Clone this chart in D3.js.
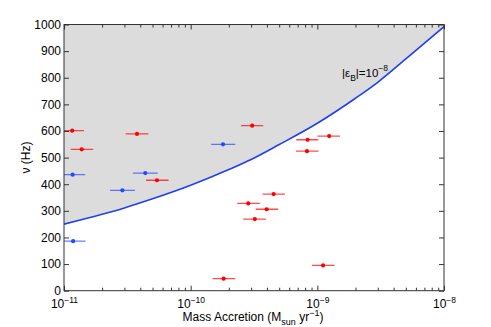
<!DOCTYPE html>
<html>
<head>
<meta charset="utf-8">
<script src="https://cdn.jsdelivr.net/npm/d3@7"></script>
<style>
body { margin: 0; background: #fff; }
svg { font-family: "Liberation Sans", Arial, Helvetica, sans-serif; }
</style>
</head>
<body>
<svg width="491" height="327"></svg>
<script>
// sources: accretion rate (Msun/yr) with range, spin frequency (Hz)
const mdot   = [1.16e-11, 3.77e-11, 1.38e-11, 1.17e-11, 4.38e-11, 5.42e-11, 2.89e-11, 1.18e-11, 3.06e-10, 1.80e-10, 1.24e-9, 8.38e-10, 8.28e-10, 4.52e-10, 2.85e-10, 3.98e-10, 3.21e-10, 1.82e-10, 1.11e-9];
const mdotLo = [0.97e-11, 3.07e-11, 1.13e-11, 0.97e-11, 3.50e-11, 4.44e-11, 2.31e-11, 0.97e-11, 2.50e-10, 1.45e-10, 1.00e-9, 6.82e-10, 6.78e-10, 3.70e-10, 2.33e-10, 3.26e-10, 2.60e-10, 1.49e-10, 9.06e-10];
const mdotHi = [1.44e-11, 4.63e-11, 1.70e-11, 1.47e-11, 5.49e-11, 6.70e-11, 3.63e-11, 1.48e-11, 3.74e-10, 2.25e-10, 1.51e-9, 1.02e-9, 1.02e-9, 5.55e-10, 3.52e-10, 4.91e-10, 3.93e-10, 2.25e-10, 1.37e-9];
const freq   = [601, 589, 531, 436, 442, 415, 377, 186, 620, 550, 581, 567, 524, 363, 328, 306, 269, 45, 95];
const kind   = ["burst", "burst", "burst", "pulse", "pulse", "burst", "pulse", "pulse", "burst", "pulse", "burst", "burst", "burst", "burst", "burst", "burst", "burst", "burst", "burst"];

// |eps_B| = 1e-8 limit curve
const curveMdot = [1e-11, 2e-11, 3e-11, 5e-11, 1e-10, 2e-10, 3e-10, 5e-10, 1e-9, 2e-9, 3e-9, 5e-9, 1e-8];
const curveFreq = [250, 287, 311, 345, 396, 455, 493, 549, 629, 723, 783, 871, 992];

const xMajor = [1e-11, 1e-10, 1e-9, 1e-8];
const xMajorExp = ["\u221211", "\u221210", "\u22129", "\u22128"];
const yTicks = [0, 100, 200, 300, 400, 500, 600, 700, 800, 900, 1000];

const svg = d3.select("svg");
const pL = 64, pR = 444, pT = 24.5, pB = 290.7;
const axisColor = "#333";

const x = d3.scaleLog().domain([1e-11, 1e-8]).range([pL, pR]);
const y = d3.scaleLinear().domain([0, 1000]).range([pB, pT]);
const color = d3.scaleOrdinal().domain(["burst", "pulse"]).range(["#ff0000", "#2448ff"]);

svg.append("clipPath").attr("id", "plot")
  .append("rect").attr("x", pL).attr("y", pT)
  .attr("width", pR - pL).attr("height", pB - pT);

const g = svg.append("g").attr("clip-path", "url(#plot)");

const curve = curveMdot.map((m, i) => [x(m), y(curveFreq[i])]);

// shaded region above the curve
const area = d3.area()
  .x(d => d[0]).y0(pT).y1(d => d[1])
  .curve(d3.curveMonotoneX);
g.append("path").datum(curve)
  .attr("d", area)
  .attr("fill", "#dcdcdc");

g.append("path").datum(curve)
  .attr("d", d3.line().curve(d3.curveMonotoneX))
  .attr("fill", "none")
  .attr("stroke", "#2040ee")
  .attr("stroke-width", 1.6);

const idx = d3.range(freq.length);

g.selectAll(".err").data(idx).enter()
  .append("line")
  .attr("class", "err")
  .attr("x1", i => x(mdotLo[i]))
  .attr("x2", i => x(mdotHi[i]))
  .attr("y1", i => y(freq[i]))
  .attr("y2", i => y(freq[i]))
  .attr("stroke", i => color(kind[i]))
  .attr("stroke-opacity", 0.7)
  .attr("stroke-width", 1.3);

g.selectAll(".pt").data(idx).enter()
  .append("circle")
  .attr("class", "pt")
  .attr("cx", i => x(mdot[i]))
  .attr("cy", i => y(freq[i]))
  .attr("r", 2.1)
  .attr("fill", i => color(kind[i]));

// frame
svg.append("rect")
  .attr("x", pL).attr("y", pT)
  .attr("width", pR - pL).attr("height", pB - pT)
  .attr("fill", "none").attr("stroke", axisColor).attr("stroke-width", 1);

// x minor ticks (bottom & top)
const xMinor = [];
xMajor.slice(0, -1).forEach(d => { for (let k = 2; k < 10; k++) xMinor.push(d * k); });

function styleAxis(sel) {
  sel.select(".domain").remove();
  sel.selectAll(".tick line").attr("stroke", axisColor);
}

svg.append("g").attr("transform", `translate(0,${pB})`)
  .call(d3.axisBottom(x).tickValues(xMinor).tickSize(-3).tickFormat(""))
  .call(styleAxis);
svg.append("g").attr("transform", `translate(0,${pT})`)
  .call(d3.axisTop(x).tickValues(xMinor).tickSize(-3).tickFormat(""))
  .call(styleAxis);
svg.append("g").attr("transform", `translate(0,${pT})`)
  .call(d3.axisTop(x).tickValues(xMajor).tickSize(-5).tickFormat(""))
  .call(styleAxis);

const xAxis = svg.append("g").attr("transform", `translate(0,${pB})`)
  .call(d3.axisBottom(x).tickValues(xMajor).tickSize(-5).tickFormat(""))
  .call(styleAxis);
xAxis.selectAll(".tick text").each(function(d, i) {
  const t = d3.select(this)
    .attr("fill", "#000").attr("font-size", 12).attr("dy", null).attr("y", 17)
    .attr("text-anchor", "middle");
  t.append("tspan").text("10");
  t.append("tspan").attr("font-size", 8.5).attr("dy", -5).text(xMajorExp[i]);
});

// y axis (left with labels, right ticks only)
const yAxis = svg.append("g").attr("transform", `translate(${pL},0)`)
  .call(d3.axisLeft(y).tickValues(yTicks).tickSize(-5).tickPadding(3).tickFormat(d3.format("d")))
  .call(styleAxis);
yAxis.selectAll(".tick text").attr("fill", "#000").attr("font-size", 12);
svg.append("g").attr("transform", `translate(${pR},0)`)
  .call(d3.axisRight(y).tickValues(yTicks).tickSize(-5).tickFormat(""))
  .call(styleAxis);

// axis titles
const xt = svg.append("text")
  .attr("x", 253).attr("y", 321)
  .attr("text-anchor", "middle").attr("font-size", 12).attr("fill", "#000");
xt.append("tspan").text("Mass Accretion (M");
xt.append("tspan").attr("font-size", 9).attr("dy", 4).text("sun");
xt.append("tspan").attr("dy", -4).text(" yr");
xt.append("tspan").attr("font-size", 9).attr("dy", -5).text("\u22121");
xt.append("tspan").attr("dy", 5).text(")");

svg.append("text")
  .attr("transform", `translate(30,${(pT + pB) / 2}) rotate(-90)`)
  .attr("text-anchor", "middle").attr("font-size", 12).attr("fill", "#000")
  .text("\u03bd (Hz)");

// curve label
const lab = svg.append("text")
  .attr("x", 342).attr("y", 77)
  .attr("font-size", 11.5).attr("fill", "#000");
lab.append("tspan").text("|\u03b5");
lab.append("tspan").attr("font-size", 8.5).attr("dy", 3.5).text("B");
lab.append("tspan").attr("dy", -3.5).text("|=10");
lab.append("tspan").attr("font-size", 8.5).attr("dy", -6).text("\u22128");
</script>
</body>
</html>
